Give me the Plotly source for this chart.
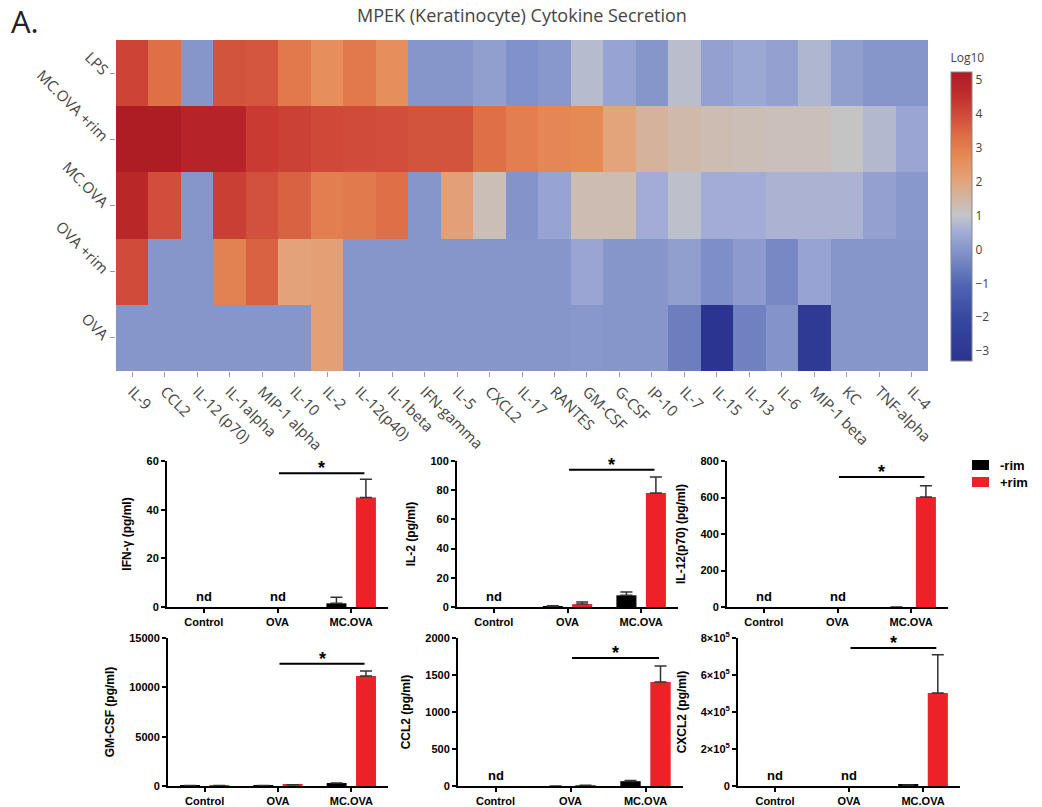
import plotly.graph_objects as go

W, H = 1042, 807

# ---------------- heatmap data ----------------
cytokines = ["IL-9", "CCL2", "IL-12 (p70)", "IL-1alpha", "MIP-1 alpha", "IL-10", "IL-2",
             "IL-12(p40)", "IL-1beta", "IFN-gamma", "IL-5", "CXCL2", "IL-17", "RANTES",
             "GM-CSF", "G-CSF", "IP-10", "IL-7", "IL-15", "IL-13", "IL-6", "MIP-1 beta",
             "KC", "TNF-alpha", "IL-4"]
conditions = ["LPS", "MC.OVA +rim", "MC.OVA", "OVA +rim", "OVA"]

log_lps = [4.1, 3.3, 0.0, 3.8, 3.75, 3.1, 2.6, 3.1, 2.6, 0.0, 0.0, 0.2, -0.1, 0.05, 0.8,
           0.3, 0.0, 0.85, 0.25, 0.4, 0.25, 0.7, 0.2, 0.0, 0.0]
log_mcova_rim = [5.23, 5.2, 4.95, 4.95, 4.3, 4.15, 4.0, 3.95, 3.9, 3.8, 3.8, 3.3, 3.0, 2.8,
                 2.75, 2.0, 1.6, 1.4, 1.3, 1.25, 1.2, 1.2, 1.05, 0.75, 0.35]
log_mcova = [4.8, 3.9, 0.0, 4.2, 3.85, 3.55, 3.0, 3.05, 3.3, 0.0, 2.1, 1.25, -0.05, 0.3,
             1.3, 1.3, 0.5, 0.9, 0.5, 0.5, 0.65, 0.65, 0.65, 0.25, 0.05]
log_ova_rim = [3.95, 0.0, 0.0, 2.9, 3.55, 2.05, 2.15, 0.0, 0.0, 0.0, 0.0, 0.0, 0.0, 0.0,
               0.35, 0.0, 0.0, 0.2, -0.15, 0.1, -0.3, 0.3, 0.0, 0.0, 0.0]
log_ova = [0.0, 0.0, 0.0, 0.0, 0.0, 0.0, 2.15, 0.0, 0.0, 0.0, 0.0, 0.0, 0.0, 0.0,
           0.05, 0.0, 0.0, -0.5, -3.29, -0.45, -0.05, -2.9, 0.0, 0.0, 0.0]

# ---------------- bar chart data ----------------
groups = ["Control", "OVA", "MC.OVA"]
panel_titles = ["IFN-\u03b3 (pg/ml)", "IL-2 (pg/ml)", "IL-12(p70) (pg/ml)",
                "GM-CSF (pg/ml)", "CCL2 (pg/ml)", "CXCL2 (pg/ml)"]
minus_rim = [[None, None, 1.5], [None, 0.5, 8], [None, None, 0],
             [60, 60, 300], [None, 0, 65], [None, None, 6000]]
plus_rim = [[None, None, 45], [None, 2, 78], [None, None, 603],
            [60, 120, 11150], [None, 10, 1405], [None, None, 503000]]
minus_err = [[None, None, 2.5], [None, 0.3, 2.2], [None, None, None],
             [None, None, None], [None, None, 8], [None, None, None]]
plus_err = [[None, None, 7.5], [None, 1.5, 11], [None, None, 62],
            [None, None, 500], [None, None, 215], [None, None, 207000]]
y_max = [60, 100, 800, 15000, 2000, 800000]
y_dtick = [20, 20, 200, 5000, 500, 200000]
sig_y = [55, 94, 712, 12400, 1730, 746000]
legend_names = ["-rim", "+rim"]
legend_colors = ["black", "#ec2227"]

# ---------------- layout helpers ----------------
def fx(p):
    return p / W


def fy(p):
    return 1 - p / H


fig = go.Figure()

heat_font = dict(family="Open Sans", size=15, color="#444")
colorscale = [
    [0.000, "#2b3490"], [0.151, "#3848a0"], [0.268, "#5366b2"], [0.386, "#8696cb"],
    [0.445, "#a2acd6"], [0.504, "#c4c5c8"], [0.562, "#d2b6a4"], [0.621, "#e3a47c"],
    [0.703, "#e68b56"], [0.774, "#de7048"], [0.856, "#cf4838"], [0.926, "#c02c2c"],
    [1.000, "#ae1c24"],
]

fig.add_trace(go.Heatmap(
    z=[log_lps, log_mcova_rim, log_mcova, log_ova_rim, log_ova],
    x=cytokines, y=conditions, colorscale=colorscale,
    xaxis="x", yaxis="y", showlegend=False,
    colorbar=dict(
        title=dict(text="Log10", side="top", font=dict(family="Open Sans", size=12, color="#444")),
        x=fx(941), xanchor="left", y=fy(205.5), yanchor="middle",
        len=331 / H, lenmode="fraction", thickness=21,
        outlinewidth=1, outlinecolor="#888",
        tickfont=dict(family="Open Sans", size=12, color="#444"),
        tickvals=[-3, -2, -1, 0, 1, 2, 3, 4, 5],
        ticktext=["\u22123", "\u22122", "\u22121", "0", "1", "2", "3", "4", "5"],
    ),
))

layout = dict(
    width=W, height=H,
    margin=dict(l=0, r=0, t=0, b=0, autoexpand=False),
    paper_bgcolor="white", plot_bgcolor="white",
    showlegend=False,
    barmode="group", bargap=0.2, bargroupgap=0.32,
    title=dict(text="MPEK (Keratinocyte) Cytokine Secretion", x=fx(522), xanchor="center",
               y=fy(16), yanchor="middle", font=dict(family="Open Sans", size=18, color="#444")),
    xaxis=dict(domain=[fx(116), fx(928)], anchor="y", tickangle=45, tickfont=heat_font,
               ticks="outside", ticklen=5, tickcolor="#999", showgrid=False, zeroline=False,
               automargin=False),
    yaxis=dict(domain=[fy(371), fy(40)], anchor="x", autorange="reversed", tickangle=45,
               tickfont=heat_font, ticks="outside", ticklen=5, tickcolor="#999",
               showgrid=False, zeroline=False, automargin=False),
)

# panel pixel geometry: (x_left, x_right, y_top, y_bottom)
panel_px = [(167, 388, 461, 607), (457, 678, 461, 607), (727, 948, 461, 607),
            (168, 388, 638, 786), (458, 683, 638, 786), (738, 960, 638, 786)]

bold_font = dict(family="Liberation Sans", size=11, color="black", weight="bold")
annotations = []
shapes = []

for i in range(6):
    n = i + 2
    xa, ya = f"x{n}", f"y{n}"
    xl, xr, yt, yb = panel_px[i]
    if i == 5:
        tv = [0, 200000, 400000, 600000, 800000]
        tt = ["0", "2\u00d710<sup>5</sup>", "4\u00d710<sup>5</sup>",
              "6\u00d710<sup>5</sup>", "8\u00d710<sup>5</sup>"]
        ytick = dict(tickvals=tv, ticktext=tt)
    else:
        ytick = dict(tick0=0, dtick=y_dtick[i], tickformat="d")
    layout[f"xaxis{n}"] = dict(
        domain=[fx(xl), fx(xr)], anchor=ya, type="category", range=[-0.5, 2.5],
        showline=True, linecolor="black", linewidth=2, ticks="outside", ticklen=4,
        tickwidth=1.5, tickcolor="black", tickfont=bold_font, showgrid=False, zeroline=False,
        fixedrange=True, automargin=False)
    layout[f"yaxis{n}"] = dict(
        domain=[fy(yb), fy(yt)], anchor=xa, range=[0, y_max[i]],
        showline=True, linecolor="black", linewidth=2, ticks="outside", ticklen=4,
        tickwidth=1.5, tickcolor="black", tickfont=bold_font, showgrid=False, zeroline=False,
        automargin=False,
        title=dict(text=panel_titles[i], font=dict(family="Liberation Sans", size=12,
                                                   color="black", weight="bold"), standoff=12),
        **ytick)
    for vals, errs, name, col in [(minus_rim[i], minus_err[i], legend_names[0], legend_colors[0]),
                                  (plus_rim[i], plus_err[i], legend_names[1], legend_colors[1])]:
        fig.add_trace(go.Bar(
            x=groups, y=vals, name=name, marker=dict(color=col, line=dict(width=0)),
            xaxis=xa, yaxis=ya, showlegend=False,
            error_y=dict(type="data", array=errs, arrayminus=[0, 0, 0], symmetric=False,
                         color="#333", thickness=1.5, width=6),
        ))
    # nd labels
    for k in range(3):
        if minus_rim[i][k] is None and plus_rim[i][k] is None:
            annotations.append(dict(x=k, y=0, xref=xa, yref=ya, text="nd", showarrow=False,
                                    yanchor="bottom", yshift=1,
                                    font=dict(family="Liberation Sans", size=13,
                                              color="black", weight="bold")))
    # significance bracket
    shapes.append(dict(type="line", xref=xa, yref=ya, x0=1.02, x1=2.18,
                       y0=sig_y[i], y1=sig_y[i], line=dict(color="black", width=2)))
    annotations.append(dict(x=1.6, y=sig_y[i], xref=xa, yref=ya, text="*", showarrow=False,
                            yanchor="bottom", yshift=-7,
                            font=dict(family="Liberation Sans", size=18, color="black",
                                      weight="bold")))

# manual legend (top right)
for j, (nm, col) in enumerate(zip(legend_names, legend_colors)):
    yc = 465 + 17 * j
    shapes.append(dict(type="rect", xref="paper", yref="paper",
                       x0=fx(972), x1=fx(989), y0=fy(yc + 5), y1=fy(yc - 5),
                       fillcolor=col, line=dict(width=0)))
    annotations.append(dict(x=fx(998), y=fy(yc), xref="paper", yref="paper", text=nm,
                            showarrow=False, xanchor="left", yanchor="middle",
                            font=dict(family="Liberation Sans", size=13, color="black",
                                      weight="bold")))

annotations.append(dict(x=fx(9), y=fy(21), xref="paper", yref="paper", text="A.",
                        showarrow=False, xanchor="left", yanchor="middle",
                        font=dict(family="Open Sans", size=31, color="#222")))

layout["annotations"] = annotations
layout["shapes"] = shapes
fig.update_layout(**layout)

fig.write_html("out.html", config={"displayModeBar": False},
               post_script="document.body.style.margin='0';document.body.style.overflow='hidden';")
